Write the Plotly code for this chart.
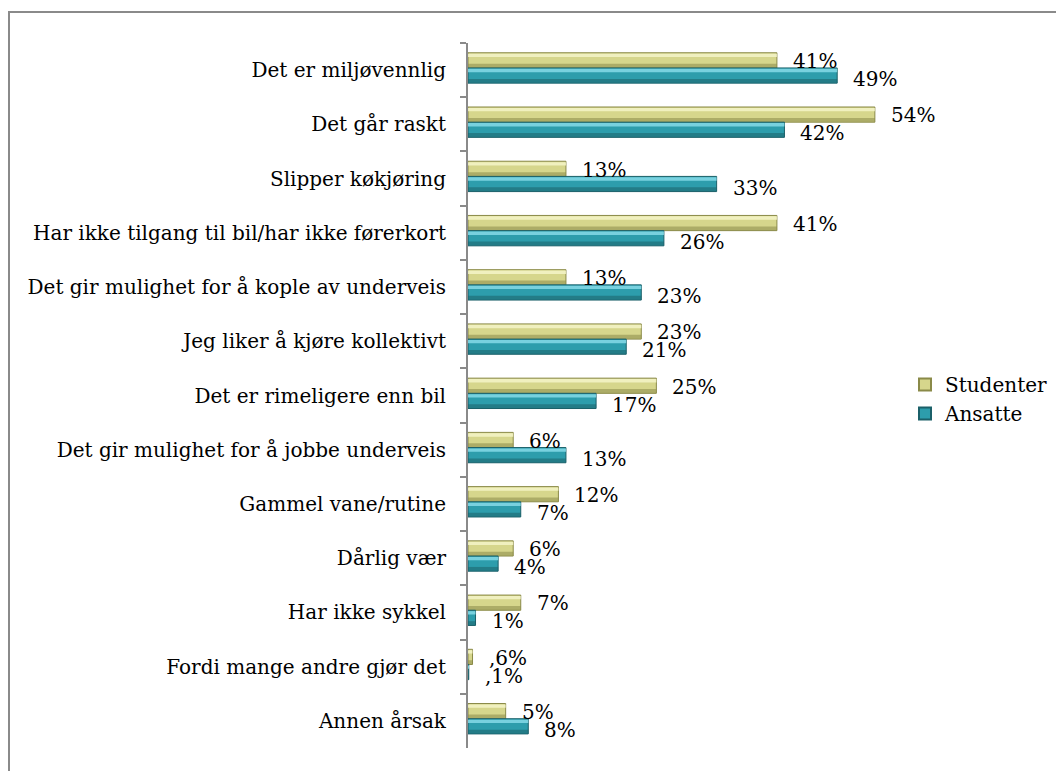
import plotly.graph_objects as go

# Reasons for choosing public transport, share of respondents (%)
categories = [
    "Det er miljøvennlig",
    "Det går raskt",
    "Slipper køkjøring",
    "Har ikke tilgang til bil/har ikke førerkort",
    "Det gir mulighet for å kople av underveis",
    "Jeg liker å kjøre kollektivt",
    "Det er rimeligere enn bil",
    "Det gir mulighet for å jobbe underveis",
    "Gammel vane/rutine",
    "Dårlig vær",
    "Har ikke sykkel",
    "Fordi mange andre gjør det",
    "Annen årsak",
]
studenter = [41, 54, 13, 41, 13, 23, 25, 6, 12, 6, 7, 0.6, 5]
ansatte = [49, 42, 33, 26, 23, 21, 17, 13, 7, 4, 1, 0.1, 8]

FONT = "DejaVu Serif"
FS = 20


def pct_label(v):
    # Norwegian style: 0,6 -> ",6"
    if v < 1:
        return "," + f"{v:.1f}".split(".")[1] + "%"
    return f"{v:.0f}%"


series = [
    # name, values, dark edge, body, highlight, bar offset, label yshift
    ("Studenter", studenter, "#8a8a48", "#d6d68c", "#f5f5c8", -0.32, 9),
    ("Ansatte", ansatte, "#1b6069", "#2d9dac", "#86dbe7", -0.04, -9),
]

BAR_W = 0.28
fig = go.Figure()

for name, vals, dark, body, hi, off, _ in series:
    # bar body with dark edge
    fig.add_trace(go.Bar(
        y=categories, x=vals, orientation="h", name=name,
        offset=off, width=BAR_W,
        marker=dict(color=body, line=dict(color=dark, width=1)),
        showlegend=True, hoverinfo="skip",
    ))
    # lower shade
    fig.add_trace(go.Bar(
        y=categories, x=vals, orientation="h",
        offset=off + BAR_W * 0.72, width=BAR_W * 0.26,
        marker=dict(color=dark, line=dict(width=0), opacity=0.55),
        showlegend=False, hoverinfo="skip",
    ))
    # top highlight
    fig.add_trace(go.Bar(
        y=categories, x=vals, orientation="h",
        offset=off + BAR_W * 0.06, width=BAR_W * 0.22,
        marker=dict(color=hi, line=dict(width=0), opacity=0.85),
        showlegend=False, hoverinfo="skip",
    ))

annotations = []
for name, vals, dark, body, hi, off, ysh in series:
    for cat, v in zip(categories, vals):
        annotations.append(dict(
            x=v, y=cat, xref="x", yref="y",
            text=pct_label(v), showarrow=False,
            xanchor="left", yanchor="middle",
            xshift=14, yshift=ysh,
            font=dict(family=FONT, size=FS, color="#000000"),
        ))

# plot area pixel geometry
L, R, T, B = 468, 151, 43, 23
pw = 1056 - L - R
ph = 771 - T - B


def px_x(x):
    return (x - L) / pw


def px_y(y):
    return 1 - (y - T) / ph


shapes = [
    dict(type="rect", xref="paper", yref="paper",
         x0=px_x(9), x1=px_x(1080), y0=px_y(800), y1=px_y(12),
         line=dict(color="#8a8a8a", width=2), fillcolor="rgba(0,0,0,0)",
         layer="below"),
]

fig.update_layout(
    width=1056, height=771,
    margin=dict(l=L, r=R, t=T, b=B, pad=0, autoexpand=False),
    paper_bgcolor="white", plot_bgcolor="white",
    barmode="overlay",
    font=dict(family=FONT, size=FS, color="#000000"),
    xaxis=dict(range=[0, 58], showgrid=False, zeroline=False,
               showticklabels=False, showline=False, ticks=""),
    yaxis=dict(autorange="reversed", showgrid=False, zeroline=False,
               showline=True, linecolor="#8a8a8a", linewidth=2,
               ticks="outside", ticklen=6, tickcolor="#8a8a8a", tickwidth=2,
               tickson="boundaries", ticklabelstandoff=16,
               tickfont=dict(family=FONT, size=FS, color="#000000")),
    legend=dict(x=px_x(905), y=px_y(365), xanchor="left", yanchor="top",
                font=dict(family=FONT, size=FS, color="#000000"),
                itemsizing="constant", tracegroupgap=0,
                bgcolor="rgba(0,0,0,0)", itemwidth=30),
    annotations=annotations,
    shapes=shapes,
)

fig.write_html("out.html")
